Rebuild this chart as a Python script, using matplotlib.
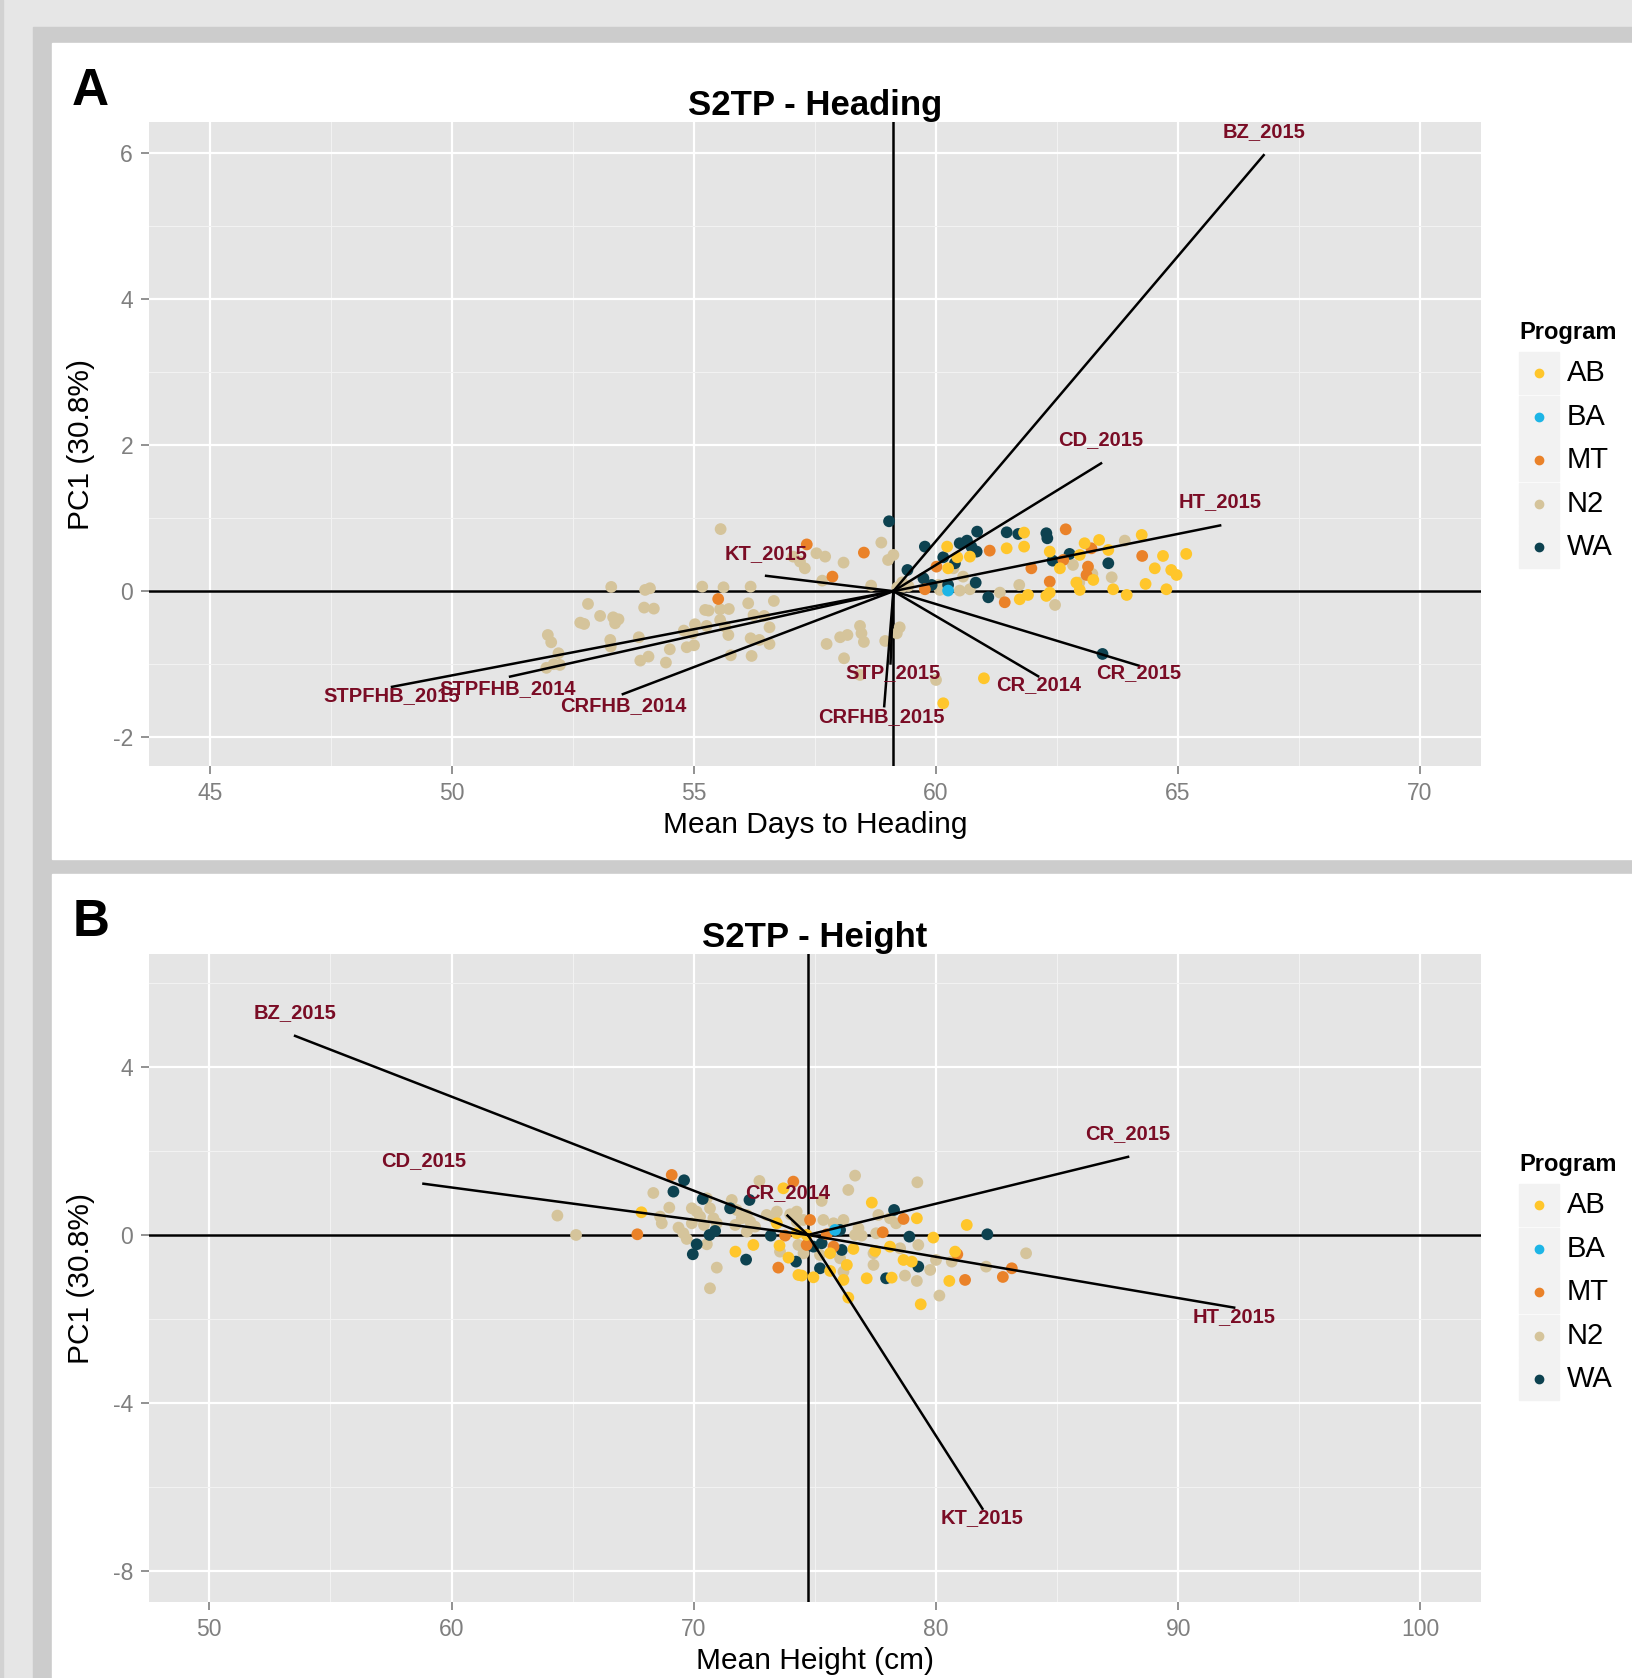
import matplotlib.pyplot as plt
from matplotlib.patches import Rectangle
from matplotlib.lines import Line2D

plt.rcParams['font.family'] = ['Liberation Sans', 'DejaVu Sans']
plt.rcParams['axes.unicode_minus'] = False

W, H = 1632, 1678

# Programs and colours
programs = ['AB', 'BA', 'MT', 'N2', 'WA']
prog_colors = {'AB': '#FFC62B', 'BA': '#1DB5E6', 'MT': '#EA8229',
               'N2': '#D5C49B', 'WA': '#0D4250'}
draw_order = ['N2', 'WA', 'MT', 'AB', 'BA']
label_red = '#7A0C25'

# ---------------- Panel A : heading ----------------
head_N2 = [(55.55, 0.85), (58.87, 0.665), (59.12, 0.496), (59.01, 0.427),
           (57.05, 0.473), (57.19, 0.405), (57.29, 0.313), (57.53, 0.519), (57.71, 0.473), (58.09, 0.391),
           (57.65, 0.144), (58.66, 0.076),
           (53.29, 0.058), (53.99, 0.017), (54.09, 0.04), (55.17, 0.062), (55.61, 0.053), (56.17, 0.062),
           (52.81, -0.175), (53.06, -0.339), (52.65, -0.431), (52.73, -0.449), (53.33, -0.358), (53.44, -0.385),
           (53.37, -0.44), (53.97, -0.225), (54.17, -0.239), (56.12, -0.166), (56.65, -0.134),
           (55.23, -0.257), (55.30, -0.266), (55.54, -0.248), (55.72, -0.244),
           (56.23, -0.326), (56.45, -0.339), (56.56, -0.495),
           (55.02, -0.453), (55.26, -0.476), (54.79, -0.54), (54.97, -0.577), (55.54, -0.394), (55.64, -0.485),
           (55.71, -0.60), (53.27, -0.668), (53.28, -0.759), (53.86, -0.631),
           (54.50, -0.796), (54.85, -0.768), (55.0, -0.741),
           (56.17, -0.645), (56.35, -0.668), (56.56, -0.723),
           (53.89, -0.951), (54.06, -0.896), (54.42, -0.978),
           (55.76, -0.878), (56.19, -0.887),
           (57.74, -0.723), (58.02, -0.631), (58.17, -0.60), (58.43, -0.476), (58.46, -0.577), (58.51, -0.695),
           (58.95, -0.682), (58.10, -0.919), (59.19, -0.577), (52.23, -1.01), (58.43, -1.147),
           (51.98, -0.60), (52.05, -0.70), (52.10, -1.0), (51.95, -1.05), (52.2, -0.85),
           (60.56, 0.199), (60.36, 0.313), (60.05, 0.085), (60.08, 0.017), (60.49, 0.008), (60.70, 0.026),
           (61.32, -0.02), (61.72, 0.085), (62.46, -0.189), (62.83, 0.359), (62.96, 0.117), (63.23, 0.236),
           (63.63, 0.19), (63.90, 0.692), (59.32, 0.062), (59.43, 0.071), (59.25, -0.495), (60.0, -1.216),
           (59.2, 0.05), (59.3, 0.12)]
head_MT = [(57.33, 0.64), (58.51, 0.528), (57.86, 0.199), (55.50, -0.107),
           (61.11, 0.555), (60.01, 0.336), (59.77, 0.026), (61.42, -0.152), (61.97, 0.313), (62.35, 0.131),
           (62.68, 0.847), (62.63, 0.427), (63.21, 0.587), (63.14, 0.336), (63.11, 0.222), (64.26, 0.482)]
head_WA = [(59.03, 0.957), (59.77, 0.61), (60.15, 0.464), (60.49, 0.656), (60.64, 0.692), (60.73, 0.61),
           (60.85, 0.815), (60.84, 0.542), (61.46, 0.806), (61.70, 0.783), (62.28, 0.793), (62.30, 0.724),
           (62.76, 0.51), (62.41, 0.418), (63.56, 0.382), (60.39, 0.382), (59.41, 0.29), (59.74, 0.176),
           (59.91, 0.085), (60.25, 0.085), (60.82, 0.117), (61.08, -0.084), (63.44, -0.86)]
head_AB = [(60.23, 0.61), (60.44, 0.464), (60.70, 0.473), (61.46, 0.587), (61.82, 0.802), (61.82, 0.61),
           (62.35, 0.542), (62.56, 0.313), (63.07, 0.656), (62.97, 0.496), (63.37, 0.701), (63.56, 0.564),
           (64.25, 0.77), (64.69, 0.482), (64.52, 0.313), (64.86, 0.29), (64.97, 0.222), (65.17, 0.51),
           (63.94, -0.052), (63.66, 0.026), (64.76, 0.026), (64.33, 0.099), (63.25, 0.154), (62.90, 0.117),
           (62.35, -0.02), (62.28, -0.065), (61.73, -0.111), (61.90, -0.052), (60.25, 0.313), (60.99, -1.193),
           (60.15, -1.535), (62.97, 0.017)]
head_BA = [(60.25, 0.008)]

head_center = 59.12
head_vec_names = ['BZ_2015', 'CD_2015', 'HT_2015', 'KT_2015', 'CR_2015', 'CR_2014', 'STP_2015',
                  'CRFHB_2015', 'STPFHB_2015', 'STPFHB_2014', 'CRFHB_2014']
head_vec_x = [66.77, 63.41, 65.87, 56.49, 64.19, 62.11, 59.06, 58.93, 48.76, 51.20, 53.53]
head_vec_y = [5.97, 1.75, 0.90, 0.21, -1.02, -1.165, -0.99, -1.575, -1.31, -1.17, -1.41]
head_lab_x = [66.77, 63.41, 65.87, 56.49, 64.19, 62.11, 59.12, 58.88, 48.76, 51.14, 53.53]
head_lab_y = [6.29, 2.07, 1.22, 0.52, -1.12, -1.28, -1.11, -1.72, -1.43, -1.34, -1.57]

# ---------------- Panel B : height ----------------
ht_N2 = [(64.37, 0.461), (65.14, 0.0), (68.33, 1.0), (68.99, 0.651), (68.61, 0.437), (68.68, 0.278),
         (69.37, 0.175), (69.57, 0.04), (69.71, -0.095), (69.92, 0.635), (70.12, 0.556), (69.92, 0.278),
         (70.26, 0.437), (70.54, 0.873), (70.67, 0.635), (70.81, 0.397), (70.42, 0.238), (70.95, 0.278),
         (70.54, -0.222), (70.95, -0.778), (70.67, -1.27), (71.57, 0.833), (71.77, 0.595), (71.98, 0.397),
         (71.71, 0.238), (72.19, 0.476), (72.33, 0.317), (72.53, 0.198), (72.19, 0.08), (72.71, 1.286),
         (73.01, 0.476), (73.36, 0.357), (73.43, 0.556), (73.98, 0.492), (74.25, 0.317), (74.32, -0.238),
         (73.56, -0.397),
         (76.66, 1.413), (76.38, 1.072), (79.23, 1.254), (75.28, 0.81), (74.25, 0.556), (74.53, 0.357),
         (75.35, 0.357), (75.77, 0.278), (76.18, 0.357), (76.80, 0.159), (76.66, 0.0), (76.93, -0.016),
         (77.53, 0.04), (74.53, -0.437), (75.21, -0.476), (76.04, -0.556), (77.42, -0.437),
         (77.42, -0.714), (77.62, 0.476), (78.10, 0.397), (78.35, 0.278), (78.52, -0.317), (79.27, -0.238),
         (80.00, -0.595), (80.65, -0.635), (79.76, -0.833), (79.21, -1.095), (78.72, -0.968), (80.14, -1.444),
         (82.07, -0.754), (83.72, -0.437), (76.18, -0.873)]
ht_MT = [(69.09, 1.429), (67.67, 0.016), (74.11, 1.27), (73.77, -0.016), (73.49, -0.778), (74.80, 0.357),
         (75.49, 0.016), (75.77, -0.278), (77.80, 0.064), (78.66, 0.381), (80.88, -0.46), (81.20, -1.071),
         (82.76, -1.0), (83.13, -0.794), (74.66, -0.238)]
ht_WA = [(69.60, 1.302), (69.16, 1.032), (70.37, 0.857), (71.50, 0.635), (72.30, 0.833), (70.65, 0.0),
         (70.88, 0.095), (70.12, -0.222), (69.96, -0.46), (72.16, -0.587), (73.18, -0.016), (74.22, -0.635),
         (78.27, 0.595), (76.04, 0.119), (74.94, -0.278), (75.28, -0.198), (76.11, -0.357), (75.21, -0.794),
         (79.27, -0.754), (77.94, -1.032), (78.90, -0.04), (82.12, 0.016)]
ht_AB = [(67.84, 0.54), (71.72, -0.397), (72.46, -0.238), (73.54, -0.254), (73.70, 1.111), (73.43, 0.278),
         (73.91, -0.54), (74.32, -0.952), (77.35, 0.77), (79.21, 0.397), (81.27, 0.238), (79.89, -0.063),
         (74.25, 0.04), (74.66, 0.0), (76.59, -0.333), (75.63, -0.437), (77.49, -0.381), (78.10, -0.278),
         (78.66, -0.595), (79.0, -0.635), (74.46, -0.968), (74.94, -1.008), (75.63, -0.857), (76.18, -1.071),
         (77.14, -1.032), (78.17, -1.016), (76.38, -1.492), (79.37, -1.651), (80.55, -1.095), (80.79, -0.397),
         (76.32, -0.714)]
ht_BA = [(75.83, 0.119)]

ht_center = 74.71
ht_vec_names = ['BZ_2015', 'CD_2015', 'CR_2014', 'CR_2015', 'HT_2015', 'KT_2015']
ht_vec_x = [53.54, 58.84, 73.87, 87.93, 92.31, 81.92]
ht_vec_y = [4.74, 1.22, 0.46, 1.86, -1.73, -6.52]
ht_lab_x = [53.54, 58.84, 73.87, 87.93, 92.31, 81.92]
ht_lab_y = [5.30, 1.78, 1.02, 2.42, -1.94, -6.73]


def px_rect(x0, y0, x1, y1, color):
    fig.patches.append(Rectangle((x0 / W, 1 - y1 / H), (x1 - x0) / W, (y1 - y0) / H,
                                 transform=fig.transFigure, color=color, zorder=-5))


def px_axes(x0, y0, x1, y1):
    return fig.add_axes([x0 / W, 1 - y1 / H, (x1 - x0) / W, (y1 - y0) / H])


def draw_panel(ax, pts, center, names, vx, vy, lx, ly, xlim, ylim, xt, yt, xm, ym, title, xlabel):
    ax.set_facecolor('#E5E5E5')
    for sp in ax.spines.values():
        sp.set_visible(False)
    ax.set_xlim(xlim)
    ax.set_ylim(ylim)
    ax.set_xticks(xt)
    ax.set_yticks(yt)
    ax.set_xticks(xm, minor=True)
    ax.set_yticks(ym, minor=True)
    ax.set_axisbelow(True)
    ax.grid(which='major', color='white', lw=1.6)
    ax.grid(which='minor', color='#F2F2F2', lw=0.8)
    ax.tick_params(which='major', direction='out', length=6, width=1.2, color='#7F7F7F',
                   labelcolor='#7F7F7F', labelsize=16.5, pad=5.5)
    ax.tick_params(which='minor', length=0)
    ax.axhline(0, color='black', lw=1.8, zorder=1)
    ax.axvline(center, color='black', lw=1.8, zorder=1)
    for p in draw_order:
        if len(pts[p]) == 0:
            continue
        xs = [q[0] for q in pts[p]]
        ys = [q[1] for q in pts[p]]
        ax.scatter(xs, ys, s=72, color=prog_colors[p], edgecolors='none', zorder=2)
    for n, ex, ey, tx, ty in zip(names, vx, vy, lx, ly):
        ax.plot([center, ex], [0, ey], color='black', lw=1.8, zorder=3)
        ax.text(tx, ty, n, color=label_red, fontsize=14.5, fontweight='bold',
                ha='center', va='center', zorder=4)
    ax.set_title(title, fontsize=25, fontweight='bold', pad=5)
    ax.set_xlabel(xlabel, fontsize=21.5, labelpad=4)
    ax.set_ylabel('PC1 (30.8%)', fontsize=21.5, labelpad=13)


def draw_legend(top):
    fig.text(1519 / W, 1 - top / H, 'Program', fontsize=17, fontweight='bold', ha='left', va='center')
    for i, p in enumerate(programs):
        cy = top + 40 + i * 43.6
        px_rect(1519, cy - 21, 1559, cy + 21, '#F2F2F2')
        fig.add_artist(Line2D([1539 / W], [1 - cy / H], marker='o', ms=6, color=prog_colors[p],
                              linestyle='none', transform=fig.transFigure))
        fig.text(1567 / W, 1 - cy / H, p, fontsize=21, ha='left', va='center')


fig = plt.figure(figsize=(W / 100, H / 100), dpi=100)
fig.patch.set_facecolor('#E6E6E6')
px_rect(0, 0, 3, H, '#D2D2D2')
px_rect(33, 27, W, H, '#CCCCCC')
px_rect(52, 43, W, 859, 'white')
px_rect(52, 874, W, H, 'white')

axA = px_axes(149, 122, 1481, 766)
head_pts = {'AB': head_AB, 'BA': head_BA, 'MT': head_MT, 'N2': head_N2, 'WA': head_WA}
draw_panel(axA, head_pts, head_center, head_vec_names, head_vec_x, head_vec_y, head_lab_x, head_lab_y,
           (43.74, 71.26), (-2.394, 6.424), [45, 50, 55, 60, 65, 70], [-2, 0, 2, 4, 6],
           [47.5, 52.5, 57.5, 62.5, 67.5], [-1, 1, 3, 5], 'S2TP - Heading', 'Mean Days to Heading')

axB = px_axes(149, 954, 1481, 1602)
ht_pts = {'AB': ht_AB, 'BA': ht_BA, 'MT': ht_MT, 'N2': ht_N2, 'WA': ht_WA}
draw_panel(axB, ht_pts, ht_center, ht_vec_names, ht_vec_x, ht_vec_y, ht_lab_x, ht_lab_y,
           (47.51, 102.5), (-8.74, 6.69), [50, 60, 70, 80, 90, 100], [-8, -4, 0, 4],
           [55, 65, 75, 85, 95], [-6, -2, 2, 6], 'S2TP - Height', 'Mean Height (cm)')

fig.text(72 / W, 1 - 105 / H, 'A', fontsize=37, fontweight='bold', ha='left', va='baseline')
fig.text(73 / W, 1 - 936 / H, 'B', fontsize=37, fontweight='bold', ha='left', va='baseline')

draw_legend(333)
draw_legend(1165)

fig.savefig('out.png', dpi=100, facecolor=fig.get_facecolor())
